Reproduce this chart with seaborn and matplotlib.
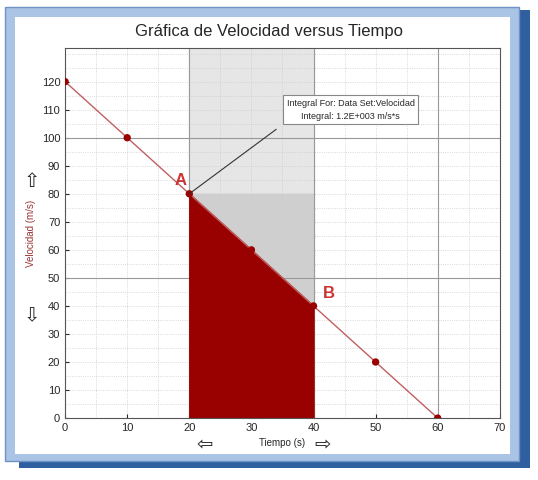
import numpy as np
import matplotlib.pyplot as plt
import seaborn as sns
from matplotlib.patches import Rectangle

tiempo = [0, 10, 20, 30, 40, 50, 60]
velocidad = [120, 100, 80, 60, 40, 20, 0]
int_t = [20, 30, 40]
int_v = [80, 60, 40]

sns.set_style("white")
plt.rcParams['font.family'] = ['Liberation Sans', 'DejaVu Sans']

fig = plt.figure(figsize=(5.38, 4.8), dpi=100)
fig.patch.set_facecolor('white')
# marco exterior
fig.patches.append(Rectangle((0.035, 0.025), 0.95, 0.955, transform=fig.transFigure,
                             facecolor='#2f5f9e', edgecolor='none', zorder=-3))
fig.patches.append(Rectangle((0.01, 0.04), 0.955, 0.945, transform=fig.transFigure,
                             facecolor='#a9c4e4', edgecolor='#6f93c4', zorder=-2))
fig.patches.append(Rectangle((0.028, 0.055), 0.92, 0.91, transform=fig.transFigure,
                             facecolor='white', edgecolor='none', zorder=-1))

ax = fig.add_axes([0.121, 0.129, 0.808, 0.771])
ax.set_zorder(1)
ax.set_xlim(0, 70)
ax.set_ylim(0, 132)

ax.axvspan(20, 40, color='#e6e6e6', zorder=0)
ax.fill_between([20, 40], [80, 80], [80, 40], color='#cfcfcf', zorder=0.5)
ax.fill_between(int_t, 0, int_v, color='#990000', zorder=1)

ax.set_xticks(range(0, 71, 10))
ax.set_yticks(range(0, 121, 10))
ax.set_xticks(range(0, 71, 5), minor=True)
ax.set_yticks(range(0, 131, 5), minor=True)
ax.grid(which='minor', color='#cccccc', linestyle=':', linewidth=0.6)
ax.grid(which='major', color='#cccccc', linestyle=':', linewidth=0.6)
for x in [20, 40, 60]:
    ax.axvline(x, color='#999999', linewidth=0.8, zorder=0.6)
for y in [50, 100]:
    ax.axhline(y, color='#999999', linewidth=0.8, zorder=0.6)

sns.lineplot(x=tiempo, y=velocidad, ax=ax, color='#c06060', linewidth=1, zorder=3)
sns.scatterplot(x=tiempo, y=velocidad, ax=ax, color='#990000', s=28, edgecolor='none', zorder=4)

ax.tick_params(labelsize=8, length=3, direction='in', left=True, bottom=True)
for s in ax.spines.values():
    s.set_color('#555555')
    s.set_linewidth(0.8)
ax.set_xlabel('Tiempo (s)', fontsize=7)
ax.set_ylabel('Velocidad (m/s)', fontsize=7, color='#993333')
fig.text(0.5, 0.925, 'Gráfica de Velocidad versus Tiempo', ha='center', fontsize=12)
fig.text(0.38, 0.07, '⇦', fontsize=14, ha='center', va='center')
fig.text(0.6, 0.07, '⇨', fontsize=14, ha='center', va='center')
fig.text(0.06, 0.62, '⇧', fontsize=14, ha='center', va='center')
fig.text(0.06, 0.34, '⇩', fontsize=14, ha='center', va='center')

ax.text(19.5, 83, 'A', color='#cc3333', fontsize=12, fontweight='bold', ha='right')
ax.text(41.5, 43, 'B', color='#cc3333', fontsize=12, fontweight='bold', ha='left')
ax.plot([20, 34], [80, 103], color='#333333', linewidth=0.8, zorder=5)
ax.text(46, 110, 'Integral For: Data Set:Velocidad\nIntegral: 1.2E+003 m/s*s', fontsize=6.5,
        ha='center', va='center', linespacing=1.6,
        bbox=dict(facecolor='white', edgecolor='#888888', linewidth=0.8, boxstyle='square,pad=0.4'),
        zorder=6)

fig.savefig('out.png', dpi=100)
